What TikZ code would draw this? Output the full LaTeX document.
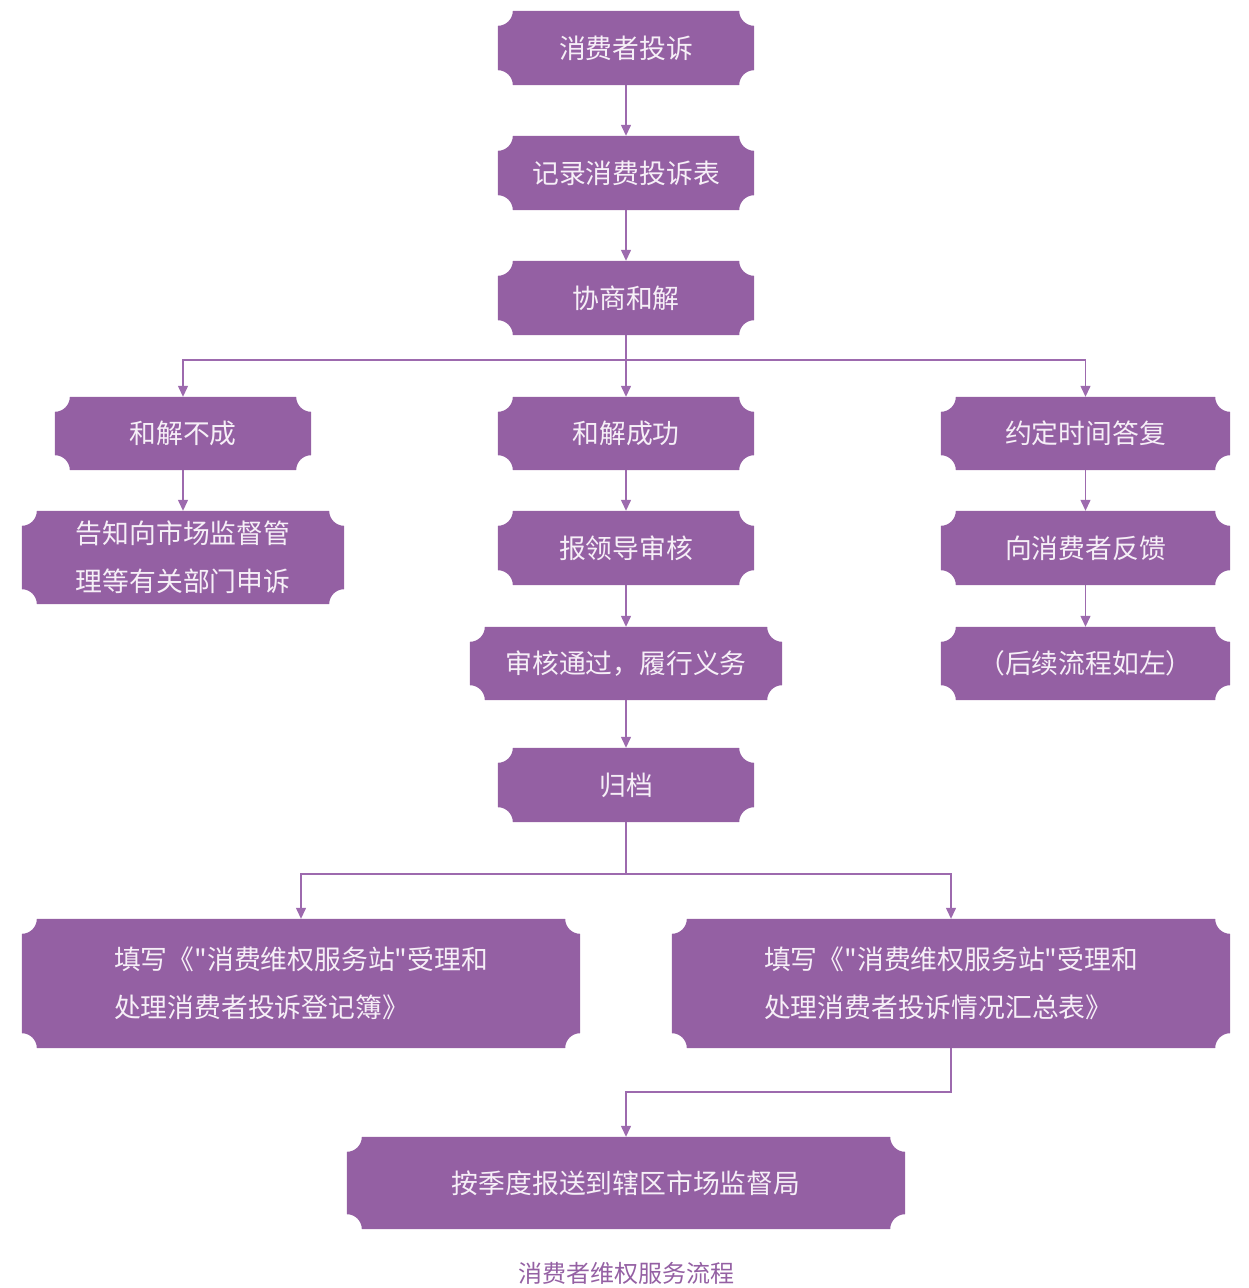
\documentclass[tikz,border=0pt]{standalone}
\usepackage{fontspec}
\newfontfamily\cjkfont{Noto Sans CJK SC}
\usepackage{xcolor}
\usepackage{tikz}
\usetikzlibrary{calc, arrows.meta}
\pgfdeclarelayer{bg}
\pgfsetlayers{bg,main}
\definecolor{tkpurple}{HTML}{9460A3}
\definecolor{tkline}{HTML}{9D6AAE}
\definecolor{tktext}{HTML}{F6EFF7}

\tikzset{
	ticket/.style={minimum width=256pt, minimum height=74pt, inner sep=0pt, text=tktext, font=\cjkfont\fontsize{26.8}{48}\selectfont, align=left},
	arr/.style={-{Triangle[length=11pt, width=10pt]}, line width=1.3pt, tkline},
}

\begin{document}
\begin{tikzpicture}[x=1pt, y=1pt]
		\useasboundingbox (0,0) rectangle (1248,-1288);

		\node[ticket] (complain) at (626,-48) {消费者投诉};
		\node[ticket] (record) at (626,-173) {记录消费投诉表};
		\node[ticket] (talk) at (626,-298) {协商和解};

		\node[ticket, minimum height=73pt] (fail) at (183,-433.5) {和解不成};
		\node[ticket, minimum height=73pt] (success) at (626,-433.5) {和解成功};
		\node[ticket, minimum height=73pt, minimum width=289pt] (promise) at (1085.5,-433.5) {约定时间答复};

		\node[ticket, minimum width=322pt, minimum height=93pt] (appeal) at (183,-557.5) {告知向市场监督管\\理等有关部门申诉};
		\node[ticket] (leader) at (626,-548) {报领导审核};
		\node[ticket, minimum width=312pt, minimum height=73pt] (pass) at (626,-663.5) {审核通过，履行义务};
		\node[ticket] (archive) at (626,-785) {归档};
		\node[ticket, minimum width=289pt] (feedback) at (1085.5,-548) {向消费者反馈};
		\node[ticket, minimum width=289pt, minimum height=73pt] (later) at (1085.5,-663.5) {（后续流程如左）};

		\node[ticket, minimum width=558pt, minimum height=129pt] (book) at (301,-983.5) {填写《"消费维权服务站"受理和\\处理消费者投诉登记簿》};
		\node[ticket, minimum width=558pt, minimum height=129pt] (sheet) at (951,-983.5) {填写《"消费维权服务站"受理和\\处理消费者投诉情况汇总表》};
		\node[ticket, minimum width=558pt, minimum height=92pt] (quarter) at (626,-1183) {按季度报送到辖区市场监督局};

		\node[tkpurple, font=\cjkfont\fontsize{24}{24}\selectfont] (title) at (626,-1273) {消费者维权服务流程};

		% ticket shapes behind the texts
		\begin{pgfonlayer}{bg}
			\foreach \tk in {complain, record, talk, fail, success, promise, appeal, leader, pass, archive, feedback, later, book, sheet, quarter}
				\fill[tkpurple] let \p1=(\tk.south west), \p2=(\tk.north east) in
					(\x1+15,\y1) -- (\x2-15,\y1) arc[start angle=180, end angle=90, radius=15]
					-- (\x2,\y2-15) arc[start angle=270, end angle=180, radius=15]
					-- (\x1+15,\y2) arc[start angle=0, end angle=-90, radius=15]
					-- (\x1,\y1+15) arc[start angle=90, end angle=0, radius=15] -- cycle;
		\end{pgfonlayer}

		\draw[arr] (complain) -- (record);
		\draw[arr] (record) -- (talk);

		\coordinate (split) at (626,-360);
		\draw[line width=1.3pt, tkline] (talk) -- (split);
		\draw[arr] (split) -| (fail);
		\draw[arr] (split) -- (success);
		\draw[arr] (split) -| (promise);

		\draw[arr] (fail) -- (appeal);
		\draw[arr] (success) -- (leader);
		\draw[arr] (leader) -- (pass);
		\draw[arr] (pass) -- (archive);
		\draw[arr] (promise) -- (feedback);
		\draw[arr] (feedback) -- (later);

		\coordinate (merge) at (626,-874);
		\draw[line width=1.3pt, tkline] (archive) -- (merge);
		\draw[arr] (merge) -| (book);
		\draw[arr] (merge) -| (sheet);

		\coordinate (bend) at (951,-1092);
		\draw[arr] (sheet) -- (bend) -| (quarter);
	\end{tikzpicture}
\end{document}
